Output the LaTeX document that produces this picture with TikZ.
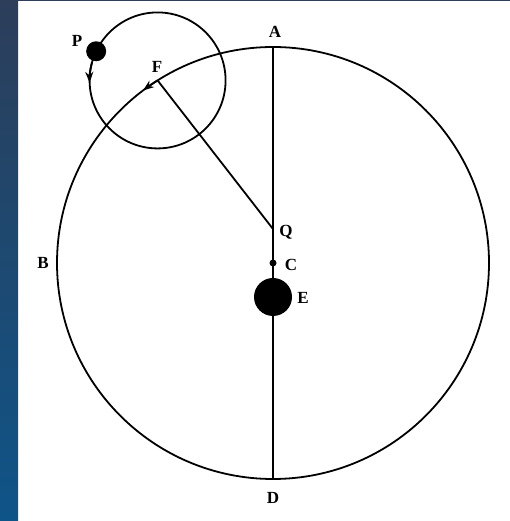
\documentclass[tikz,border=0pt]{standalone}
\usepackage{fontspec}
\setmainfont{Liberation Serif}
\usetikzlibrary{arrows.meta,calc}

\definecolor{stripTop}{HTML}{2C3E5A}
\definecolor{stripBot}{HTML}{0F5488}

\tikzset{
  orbit/.style={line width=1.8pt},
  lbl/.style={font=\fontsize{17}{19}\selectfont\bfseries, inner sep=0pt},
  tip/.style={-{Stealth[length=11pt,width=8pt]}}
}

\begin{document}
\begin{tikzpicture}[x=1pt,y=1pt]
    % frame
    \useasboundingbox (0,0) rectangle (510,521);
    \fill[white] (0,0) rectangle (510,521);
    \shade[top color=stripTop, bottom color=stripBot] (0,0) rectangle (18,521);
    \fill[stripTop] (0,519.5) rectangle (510,521);

    \coordinate (C) at (273,258);
    \coordinate (A) at ($(C)+(0,216)$);
    \coordinate (D) at ($(C)+(0,-216)$);
    \coordinate (Q) at ($(C)+(0,34)$);
    \coordinate (E) at ($(C)+(0,-34)$);
    \coordinate (F) at ($(C)+(122.3:216)$);
    \coordinate (P) at ($(F)+(154.6:68)$);

    % deferent and epicycle
    \draw[orbit] (C) circle (216);
    \draw[orbit] (F) circle (68);
    \draw[orbit] (A) -- (D);
    \draw[orbit] (F) -- (Q);

    % direction of motion
    \draw[orbit, tip] (F) arc (122.3:127:216);
    \draw[orbit, tip] ($(F)+(165:68)$) arc (165:182:68);

    \fill (P) circle (10);
    \fill (C) circle (3.5);
    \fill (E) circle (19);

    \node[lbl] (labA) at (275,489) {A};
    \node[lbl] (labP) at (77,480) {P};
    \node[lbl] (labF) at (157,454) {F};
    \node[lbl] (labQ) at (286,289) {Q};
    \node[lbl] (labC) at (291,256) {C};
    \node[lbl] (labE) at (303,223) {E};
    \node[lbl] (labB) at (43,258) {B};
    \node[lbl] (labD) at (273,23) {D};
  \end{tikzpicture}
\end{document}
